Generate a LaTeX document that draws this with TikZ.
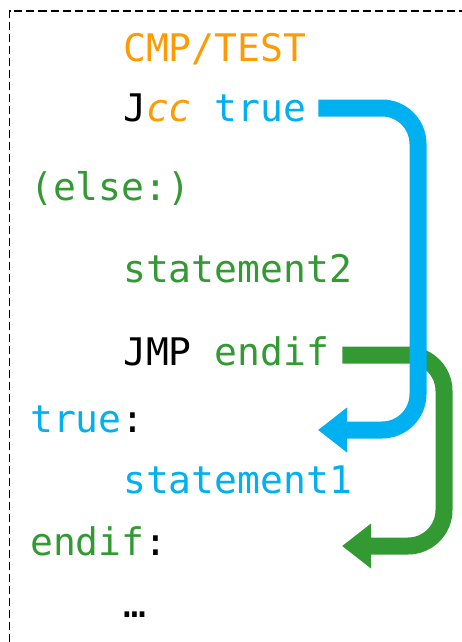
\documentclass[tikz,border=0pt]{standalone}
\usepackage{fontspec}
\usepackage{xcolor}
\usepackage{tikz}
\usetikzlibrary{arrows.meta, positioning, calc}
\newfontfamily\codefont{DejaVu Sans Mono}
\definecolor{asmorange}{HTML}{FF9A00}
\definecolor{asmblue}{HTML}{00B0F0}
\definecolor{asmgreen}{HTML}{339933}

\begin{document}
\begin{tikzpicture}[
    x=1pt, y=-1pt,
    code/.style={anchor=base west, inner sep=0pt,
                 font={\codefont\fontsize{38}{40}\selectfont}},
    jump/.style={line width=17pt, rounded corners=36pt,
                 -{Triangle[length=29pt, width=43pt]}},
]
    \useasboundingbox (0,0) rectangle (462,642);

    % Frame (left and top edges only)
    \draw[dash pattern=on 8pt off 4pt, line width=1.5pt] (9.5,642) -- (9.5,11) -- (462,11);

    % Code lines
    \node[code, text=asmorange] (cmp)   at (123, 62) {CMP/TEST};
    \node[code] (jcc)     at (123,121) {J\textcolor{asmorange}{\itshape cc} \textcolor{asmblue}{true}};
    \node[code, text=asmgreen] (else)  at (30, 200) {(else:)};
    \node[code, text=asmgreen] (stmt2) at (123,282) {statement2};
    \node[code] (jmp)     at (123,365) {JMP \textcolor{asmgreen}{endif}};
    \node[code] (truelbl) at (30, 432) {\textcolor{asmblue}{true}:};
    \node[code, text=asmblue] (stmt1)  at (123,493) {statement1};
    \node[code] (endlbl)  at (30, 555) {\textcolor{asmgreen}{endif}:};
    \node[code] (dots)    at (123,617) {…};

    % Jump targets
    \coordinate (blueturn)  at (418,430);
    \coordinate (bluetip)   at (318,430);
    \coordinate (greenturn) at (444,546);
    \coordinate (greentip)  at (342,546);

    % Jumps (green under blue)
    \draw[jump, asmgreen] ([xshift=13pt, yshift=10pt]jmp.base east) -| (greenturn) -- (greentip);
    \draw[jump, asmblue]  ([xshift=12pt, yshift=13pt]jcc.base east) -| (blueturn) -- (bluetip);
\end{tikzpicture}
\end{document}
